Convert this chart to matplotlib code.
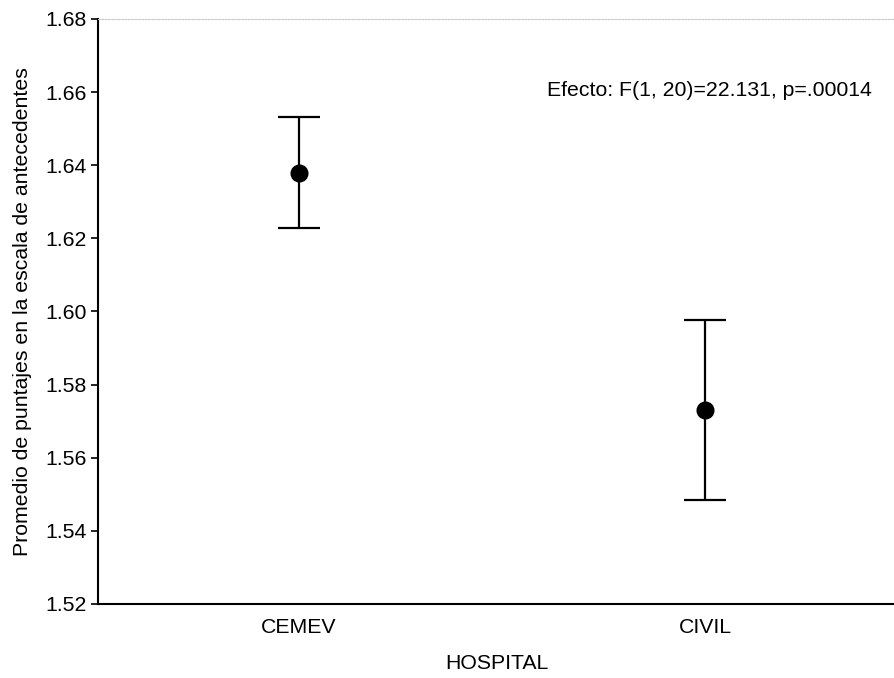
import numpy as np
import matplotlib.pyplot as plt

plt.rcParams['font.family'] = ['Liberation Sans', 'DejaVu Sans']

hospitals = ['CEMEV', 'CIVIL']
means = [1.638, 1.573]
errors = [0.0152, 0.0246]
yticks = [1.52, 1.54, 1.56, 1.58, 1.60, 1.62, 1.64, 1.66, 1.68]

fs = 15.3

fig = plt.figure(figsize=(8.95, 6.78), dpi=100)
ax = fig.add_axes([98 / 895, 1 - 604 / 678, 1 - 98 / 895, (604 - 19) / 678])

x = np.arange(len(hospitals))
ax.errorbar(x, means, yerr=errors, fmt='o', color='black', ms=12,
            capsize=15, capthick=1.6, elinewidth=1.6)

ax.set_xlim(-0.495, 1.468)
ax.set_ylim(1.52, 1.68)
ax.set_xticks(x)
ax.set_xticklabels(hospitals, fontsize=fs)
ax.set_yticks(yticks)
ax.set_yticklabels([f'{v:.2f}' for v in yticks], fontsize=fs)
ax.tick_params(axis='x', length=0, pad=10)
ax.tick_params(axis='y', length=5, width=1.2, direction='out', pad=3)

ax.spines['right'].set_visible(False)
ax.spines['top'].set_color('#c8c8c8')
ax.spines['top'].set_linestyle((0, (1.5, 1.5)))
ax.spines['top'].set_linewidth(0.8)
ax.spines['left'].set_linewidth(1.5)
ax.spines['bottom'].set_linewidth(1.5)

ax.text((872 - 98) / 797, 1 - (90 - 19) / 585, 'Efecto: F(1, 20)=22.131, p=.00014',
        transform=ax.transAxes, fontsize=fs, ha='right', va='center')

ax.set_xlabel('HOSPITAL', fontsize=fs, labelpad=12)
ax.set_ylabel('Promedio de puntajes en la escala de antecedentes', fontsize=fs, labelpad=10)

fig.savefig('out.png', dpi=100)
